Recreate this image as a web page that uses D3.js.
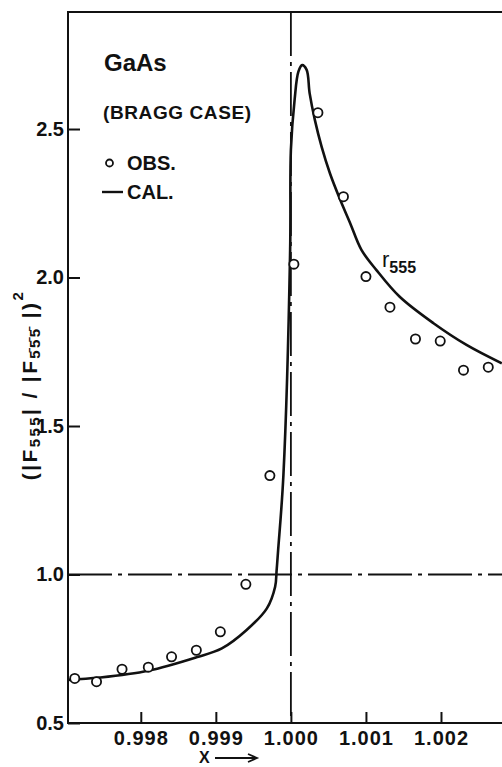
<!DOCTYPE html>
<html>
<head>
<meta charset="utf-8">
<script src="https://cdn.jsdelivr.net/npm/d3@7"></script>
<style>
  body { margin: 0; background: #fff; }
  svg { display: block; }
  text { font-family: "Liberation Sans", Arial, sans-serif; font-weight: bold; fill: #111; }
</style>
</head>
<body>
<div id="chart"></div>
<script>
// observed points (circles)
const obsX = [0.99712, 0.99741, 0.99775, 0.99810, 0.99841, 0.99874, 0.99906, 0.99940, 0.99972,
              1.00004, 1.00036, 1.00070, 1.00100, 1.00132, 1.00166, 1.00199, 1.00230, 1.00263];
const obsY = [0.650, 0.639, 0.681, 0.688, 0.723, 0.745, 0.807, 0.967, 1.333,
              2.045, 2.555, 2.272, 2.003, 1.900, 1.793, 1.786, 1.688, 1.698];

// calculated curve r555
const calX = [0.99703, 0.99745, 0.99810, 0.99874, 0.99908, 0.99941, 0.99968, 0.99979, 0.99981, 0.99983,
              0.99990, 0.99999, 1.00000, 1.00005, 1.00010, 1.00015, 1.00021, 1.00025, 1.00032, 1.00041,
              1.00052, 1.00065, 1.00079, 1.00094, 1.00114, 1.00145, 1.00190, 1.00234, 1.00281];
const calY = [0.645, 0.653, 0.676, 0.721, 0.751, 0.813, 0.886, 0.959, 1.015, 1.082,
              1.333, 2.093, 2.430, 2.600, 2.693, 2.715, 2.699, 2.620, 2.530, 2.440,
              2.351, 2.266, 2.183, 2.093, 2.025, 1.935, 1.846, 1.773, 1.711];

const xTicks = [0.998, 0.999, 1.000, 1.001, 1.002];
const yTicks = [0.5, 1.0, 1.5, 2.0, 2.5];
const refX = 1.000;   // vertical dash-dot line
const refY = 1.0;     // horizontal dash-dot line

const W = 502, H = 767;
const L = 68, R = 502, T = 12, B = 723;

const svg = d3.select('#chart').append('svg')
  .attr('width', W).attr('height', H);

const x = d3.scaleLinear().domain([0.99703, 1.002813]).range([L, R]);
const y = d3.scaleLinear().domain([0.5, 2.894]).range([B, T]);

// axes, ticks pointing inward
const xAxis = svg.append('g')
  .attr('transform', `translate(0,${B})`)
  .call(d3.axisBottom(x).tickValues(xTicks).tickSizeInner(-11).tickSizeOuter(0)
    .tickPadding(8).tickFormat(d3.format('.3f')));
const yAxis = svg.append('g')
  .attr('transform', `translate(${L},0)`)
  .call(d3.axisLeft(y).tickValues(yTicks).tickSizeInner(-12).tickSizeOuter(0)
    .tickPadding(4).tickFormat(d3.format('.1f')));

[xAxis, yAxis].forEach(function(g){
  g.select('.domain').remove();
  g.selectAll('line').attr('stroke', '#111').attr('stroke-width', 2);
  g.selectAll('text').attr('font-size', 20).attr('fill', '#111')
    .style('font-family', '"Liberation Sans", Arial, sans-serif').style('font-weight', 'bold');
});
xAxis.selectAll('text').attr('letter-spacing', 1);

// frame
svg.append('path')
  .attr('d', `M${R},${T}H${L}V${B}H${R}`)
  .attr('fill', 'none').attr('stroke', '#111').attr('stroke-width', 2);

// dash-dot reference lines
svg.append('line')
  .attr('x1', x(refX)).attr('x2', x(refX)).attr('y1', T).attr('y2', B)
  .attr('stroke', '#111').attr('stroke-width', 1.8).attr('stroke-dasharray', '44,6,4,6');
svg.append('line')
  .attr('x1', L).attr('x2', R).attr('y1', y(refY)).attr('y2', y(refY))
  .attr('stroke', '#111').attr('stroke-width', 1.8).attr('stroke-dasharray', '44,6,4,6');

// calculated curve
const line = d3.line()
  .x(function(d){ return x(d[0]); })
  .y(function(d){ return y(d[1]); })
  .curve(d3.curveCatmullRom.alpha(0.5));
svg.append('path')
  .datum(d3.zip(calX, calY))
  .attr('d', line)
  .attr('fill', 'none').attr('stroke', '#111').attr('stroke-width', 2.6);

// observed circles
svg.selectAll('.obs')
  .data(d3.zip(obsX, obsY))
  .enter().append('circle')
  .attr('class', 'obs')
  .attr('cx', function(d){ return x(d[0]); })
  .attr('cy', function(d){ return y(d[1]); })
  .attr('r', 4.6)
  .attr('fill', '#fff').attr('stroke', '#111').attr('stroke-width', 1.8);

// curve label
const rl = svg.append('text').attr('x', 382).attr('y', 267).attr('font-size', 22).style('font-weight', 'normal');
rl.append('tspan').text('r');
rl.append('tspan').attr('font-size', 16).attr('dy', 6).style('font-weight', 'bold').text('555');

// title + legend
svg.append('text').attr('x', 104).attr('y', 71).attr('font-size', 24).text('GaAs');
svg.append('text').attr('x', 103).attr('y', 119).attr('font-size', 19)
  .attr('letter-spacing', 0.6).text('(BRAGG CASE)');
svg.append('circle').attr('cx', 109.5).attr('cy', 163).attr('r', 3.5)
  .attr('fill', 'none').attr('stroke', '#111').attr('stroke-width', 1.8);
svg.append('text').attr('x', 127).attr('y', 169.5).attr('font-size', 20).text('OBS.');
svg.append('line').attr('x1', 102).attr('x2', 123).attr('y1', 192).attr('y2', 192)
  .attr('stroke', '#111').attr('stroke-width', 2.4);
svg.append('text').attr('x', 127).attr('y', 198.5).attr('font-size', 20).text('CAL.');

// y axis title
const yl = svg.append('text')
  .attr('transform', 'translate(37,385) rotate(-90)')
  .attr('text-anchor', 'middle').attr('font-size', 21).attr('letter-spacing', 2.4);
yl.append('tspan').text('(|F');
yl.append('tspan').attr('font-size', 15).attr('dy', 3).text('555');
yl.append('tspan').attr('dy', -3).text('| / |F');
yl.append('tspan').attr('font-size', 15).attr('dy', 3).text('5\u03045\u03045\u0304');
yl.append('tspan').attr('dy', -3).text(' |)');
yl.append('tspan').attr('font-size', 15).attr('dy', -14).text('2');

// x axis title with arrow
svg.append('text').attr('x', 199).attr('y', 763).attr('font-size', 16).text('X');
svg.append('path').attr('d', 'M215,758H255')
  .attr('stroke', '#111').attr('stroke-width', 1.8);
svg.append('path').attr('d', 'M248,754L257,758L248,762')
  .attr('fill', 'none').attr('stroke', '#111').attr('stroke-width', 1.8);
</script>
</body>
</html>
